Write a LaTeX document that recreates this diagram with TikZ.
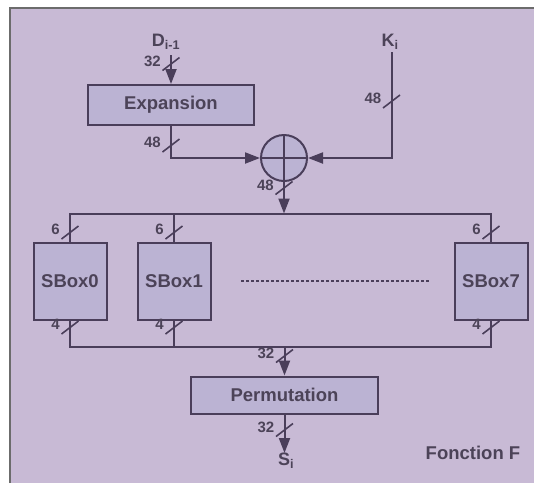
\documentclass[tikz,border=0pt]{standalone}
\usepackage{fontspec}
\setmainfont{Liberation Sans}
\usetikzlibrary{arrows.meta,positioning}
\definecolor{fbg}{HTML}{C8BAD5}
\definecolor{fboxfill}{HTML}{BBB3D3}
\definecolor{fline}{HTML}{4A3E5A}
\definecolor{ftext}{HTML}{4C4358}
\definecolor{fborder}{HTML}{6C6C6C}
\tikzset{
  wire/.style={fline,line width=2pt},
  arr/.style={wire,-{Triangle[length=15pt,width=11pt]}},
  blockbox/.style={draw=fline,fill=fboxfill,line width=2pt,text=ftext,
                   font=\fontsize{18.5}{20}\selectfont\bfseries,inner sep=0pt},
  widthlbl/.style={text=ftext,font=\fontsize{15}{16}\selectfont\bfseries,inner sep=0pt},
  siglbl/.style={text=ftext,font=\fontsize{18}{20}\selectfont\bfseries,inner sep=0pt}
}
% bus width mark: x, y, label
\newcommand{\busslash}[3]{%
  \draw[wire,line width=1.6pt] (#1-8.5,#2+6.5) -- (#1+8.5,#2-6.5);
  \node[widthlbl,anchor=east] at (#1-10,#2-3) {#3};}

\begin{document}
\begin{tikzpicture}[x=1pt,y=-1pt]
  \useasboundingbox (0,0) rectangle (534,483);
  % Frame
  \fill[white] (0,0) rectangle (534,483);
  \fill[fbg] (10,8) rectangle (534,483);
  \draw[fborder,line width=2.5pt] (10,483) -- (10,8) -- (534,8);

  % Inputs
  \node[siglbl] (din) at (166,42) {D\textsubscript{i-1}};
  \node[siglbl] (kin) at (390,42) {K\textsubscript{i}};
  \coordinate (dtop) at (171,55);
  \coordinate (ktop) at (391.5,52);

  % Expansion and xor
  \node[blockbox,minimum width=166pt,minimum height=40pt] (expansion) at (171,105) {Expansion};
  \node[draw=fline,fill=fboxfill,line width=2pt,circle,minimum size=46pt,inner sep=0pt] (xor) at (284,158) {};
  \draw[wire] (xor.north) -- (xor.south) (xor.west) -- (xor.east);

  \draw[arr] (dtop) -- (expansion.north);
  \draw[arr] (expansion.south) |- (xor.west);
  \draw[arr] (ktop) |- (xor.east);

  % SBoxes
  \node[blockbox,minimum width=73pt,minimum height=77pt] (sbox0) at (70,281) {SBox0};
  \node[blockbox,minimum width=73pt,minimum height=77pt] (sbox1) at (174,281) {SBox1};
  \node[blockbox,minimum width=73pt,minimum height=77pt] (sbox7) at (491,281) {SBox7};
  \draw[fline,line width=1.2pt,dash pattern=on 3pt off 2pt]
    ([xshift=29.5pt]sbox1.east) -- ([xshift=-23.5pt]sbox7.west);

  % Top bus
  \coordinate (bustop) at (284,213.5);
  \draw[arr] (xor.south) -- (bustop);
  \draw[wire] (sbox0.north) |- (bustop) -| (sbox7.north);
  \draw[wire] (sbox1.north) -- (sbox1.north |- bustop);

  % Bottom bus
  \coordinate (busbot) at (284.5,347);
  \draw[wire] (sbox0.south) |- (busbot) -| (sbox7.south);
  \draw[wire] (sbox1.south) -- (sbox1.south |- busbot);

  % Permutation and output
  \node[blockbox,minimum width=187pt,minimum height=37pt] (perm) at (284.5,395) {Permutation};
  \node[siglbl,anchor=north] (sout) at (286,453) {S\textsubscript{i}};
  \draw[arr] (busbot) -- (perm.north);
  \draw[arr] (perm.south) -- (perm.south |- sout.north);

  \node[text=ftext,font=\fontsize{18.5}{20}\selectfont\bfseries,inner sep=0pt] (ftitle) at (473,452.5) {Fonction F};

  % Bus widths
  \busslash{171}{64}{32}
  \busslash{171}{145.5}{48}
  \busslash{391.5}{101.5}{48}
  \busslash{284}{188}{48}
  \busslash{70}{232.5}{6}
  \busslash{174}{232.5}{6}
  \busslash{491}{232.5}{6}
  \busslash{70}{327.5}{4}
  \busslash{174}{327.5}{4}
  \busslash{491}{327.5}{4}
  \busslash{284.5}{356}{32}
  \busslash{284.5}{430}{32}
\end{tikzpicture}
\end{document}
